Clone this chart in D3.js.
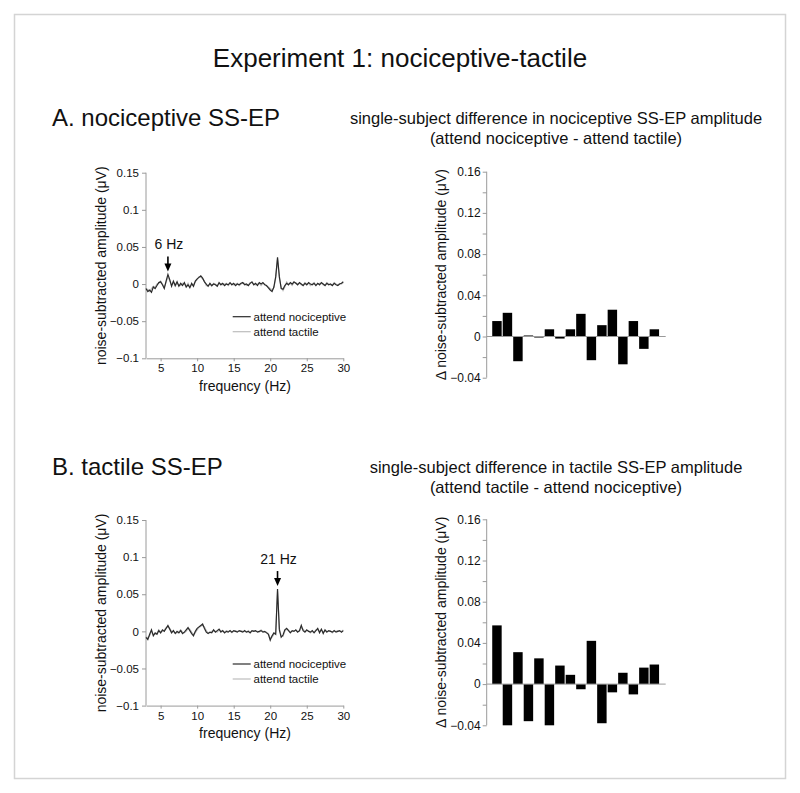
<!DOCTYPE html>
<html>
<head>
<meta charset="utf-8">
<script src="https://cdn.jsdelivr.net/npm/d3@7"></script>
<style>
body { margin: 0; background: #fff; }
text { font-family: "Liberation Sans", Arial, sans-serif; fill: #111; }
</style>
</head>
<body>
<svg id="fig" width="800" height="793"></svg>
<script>
// frequency grid of the spectra (Hz), 0.25 Hz resolution
var freqs = d3.range(3, 30.001, 0.25);

// A. nociceptive SS-EP spectra (uV)
var specA_noc = [-0.006,-0.010,-0.008,-0.011,-0.004,-0.006,-0.002,0.002,0.003,-0.001,-0.006,0.004,0.013,0.006,-0.003,0.004,-0.002,0.003,-0.003,0.001,-0.002,0.002,-0.004,-0.001,-0.005,0.001,-0.003,0.004,0.007,0.009,0.011,0.008,0.003,0.000,-0.003,0.001,-0.002,0.000,-0.001,-0.003,0.002,-0.001,0.001,-0.002,0.000,-0.001,0.002,-0.001,0.001,-0.002,0.000,-0.001,0.001,0.002,-0.001,0.000,-0.002,0.001,0.003,-0.001,0.001,-0.002,0.002,0.000,0.002,-0.001,-0.002,-0.005,-0.008,-0.010,-0.004,0.010,0.036,0.010,-0.006,-0.007,-0.002,0.001,-0.001,0.002,0.000,0.003,0.001,-0.001,0.002,0.000,-0.002,0.001,-0.001,0.002,0.000,-0.001,0.001,-0.002,0.001,-0.001,0.002,0.000,-0.002,0.001,-0.001,0.000,-0.002,0.001,-0.001,-0.002,0.000,0.001,0.003];
var specA_tac = [-0.008,-0.007,-0.010,-0.006,-0.003,-0.004,0.000,0.001,0.004,0.000,-0.004,0.002,0.010,0.004,-0.001,0.002,-0.003,0.001,-0.001,-0.002,0.001,0.000,-0.003,0.001,-0.004,-0.001,-0.001,0.003,0.006,0.010,0.009,0.007,0.004,-0.002,-0.002,0.000,-0.003,0.001,0.000,-0.002,0.000,0.001,-0.001,0.000,0.001,-0.002,0.001,0.000,-0.001,0.000,0.001,-0.002,0.000,0.001,0.001,-0.002,-0.001,0.002,0.002,0.000,-0.001,0.000,0.001,-0.002,0.001,0.000,-0.003,-0.004,-0.006,-0.008,-0.005,0.008,0.033,0.008,-0.004,-0.009,-0.004,0.003,0.000,0.001,-0.002,0.002,0.002,0.000,0.001,-0.001,-0.001,0.002,0.000,0.001,-0.002,0.000,0.002,-0.001,0.000,0.001,0.001,-0.001,-0.001,0.002,0.000,-0.001,-0.001,0.002,0.000,-0.001,0.001,0.000,0.002];

// B. tactile SS-EP spectra (uV)
var specB_noc = [-0.008,-0.011,-0.004,0.002,-0.006,-0.002,-0.004,0.001,-0.002,0.002,0.000,0.004,0.008,0.003,-0.002,0.001,-0.003,0.000,-0.002,0.001,-0.003,-0.001,0.002,0.005,0.001,-0.003,-0.006,0.000,0.004,0.006,0.008,0.010,0.004,-0.001,-0.003,-0.001,-0.002,0.002,-0.001,0.001,0.003,-0.001,0.001,-0.002,0.000,-0.001,0.001,-0.001,0.001,0.000,-0.001,0.001,0.000,-0.001,0.001,-0.001,0.000,-0.002,0.001,0.000,0.001,-0.001,0.000,0.001,-0.001,0.000,-0.002,-0.004,-0.012,-0.006,-0.002,-0.004,0.057,0.002,-0.008,-0.005,0.002,0.004,0.001,-0.002,0.001,0.000,0.002,-0.001,0.001,0.008,0.001,-0.001,0.002,0.000,-0.001,0.001,-0.002,0.001,0.004,-0.002,0.003,-0.003,0.002,-0.001,0.001,0.000,-0.001,0.001,-0.001,0.000,0.001,-0.001,0.001];
var specB_tac = [-0.006,-0.009,-0.006,0.000,-0.004,-0.004,-0.002,0.002,-0.001,0.000,0.002,0.005,0.006,0.004,0.000,0.000,-0.002,-0.002,0.000,0.002,-0.001,-0.002,0.000,0.004,0.003,-0.001,-0.004,-0.002,0.002,0.005,0.007,0.008,0.006,0.001,-0.002,-0.002,0.000,0.001,0.000,-0.001,0.002,0.001,0.000,-0.001,0.001,0.000,0.000,-0.002,0.000,0.001,0.000,0.000,0.001,0.000,0.000,-0.001,0.001,-0.001,0.000,0.001,0.000,0.000,-0.001,0.002,0.000,-0.001,-0.001,-0.003,-0.009,-0.008,-0.004,-0.002,0.054,0.004,-0.006,-0.007,0.000,0.003,0.002,-0.001,0.000,0.001,0.001,0.000,0.000,0.005,0.003,0.000,0.001,0.001,-0.002,0.000,-0.001,0.002,0.002,0.000,0.002,-0.001,0.001,0.000,0.000,0.001,-0.002,0.000,0.000,0.001,0.000,0.000,0.002];

// single-subject differences (uV), 16 subjects
var diffA = [0.015,0.023,-0.024,0.001,-0.001,0.007,-0.002,0.007,0.022,-0.023,0.011,0.026,-0.027,0.015,-0.012,0.007];
var diffB = [0.057,-0.040,0.031,-0.036,0.025,-0.040,0.018,0.009,-0.005,0.042,-0.038,-0.008,0.011,-0.010,0.016,0.019];
var subjects = d3.range(1, 17);

var specTicksY = [-0.1, -0.05, 0, 0.05, 0.1, 0.15];
var specTicksX = [5, 10, 15, 20, 25, 30];
var barTicksY = [-0.04, 0, 0.04, 0.08, 0.12, 0.16];
var barMinorY = [-0.04, -0.02, 0, 0.02, 0.04, 0.06, 0.08, 0.1, 0.12, 0.14, 0.16];

var svg = d3.select("#fig");

// frame
svg.append("rect").attr("x", 14.5).attr("y", 14.5).attr("width", 771).attr("height", 764)
  .attr("fill", "none").attr("stroke", "#d4d4d4").attr("stroke-width", 1.5);

svg.append("text").text("Experiment 1: nociceptive-tactile")
  .attr("x", 400).attr("y", 67).attr("text-anchor", "middle").style("font-size", "26px");

function drawSpectrum(top, noc, tac, peakHz, peakLabel, peakVal) {
  var x = d3.scaleLinear().domain([3, 30]).range([146, 343.3]);
  var y = d3.scaleLinear().domain([-0.1, 0.15]).range([top + 185.6, top]);

  var yAxis = d3.axisLeft(y).tickValues(specTicksY).tickSize(4).tickPadding(3)
    .tickFormat(function(d) { return d3.format("")(+d.toFixed(2)); });
  var gy = svg.append("g").attr("transform", "translate(146,0)").call(yAxis);
  var xAxis = d3.axisBottom(x).tickValues(specTicksX).tickSize(3).tickPadding(3).tickSizeOuter(0);
  var gx = svg.append("g").attr("transform", "translate(0," + (top + 185.6) + ")").call(xAxis);
  [gx, gy].forEach(function(g) {
    g.selectAll("path, line").attr("stroke", "#9a9a9a");
    g.selectAll("text").style("font-size", "11.5px").style("font-family", "Liberation Sans, Arial, sans-serif").attr("fill", "#222");
  });
  gy.select(".domain").attr("d", "M0," + y(0.15) + "V" + y(-0.1));

  svg.append("text").text("noise-subtracted amplitude (\u03bcV)")
    .attr("transform", "translate(106," + (top + 93) + ") rotate(-90)")
    .attr("text-anchor", "middle").style("font-size", "14px");
  svg.append("text").text("frequency (Hz)")
    .attr("x", 245).attr("y", top + 218).attr("text-anchor", "middle").style("font-size", "14px");

  var line = d3.line().x(function(d, i) { return x(freqs[i]); }).y(function(d) { return y(d); });
  svg.append("path").datum(tac).attr("d", line).attr("fill", "none").attr("stroke", "#bdbdbd").attr("stroke-width", 1.2);
  svg.append("path").datum(noc).attr("d", line).attr("fill", "none").attr("stroke", "#2a2a2a").attr("stroke-width", 1.2);

  // peak annotation
  var ax = x(peakHz), tipY = y(peakVal) - 3;
  svg.append("line").attr("x1", ax).attr("x2", ax).attr("y1", tipY - 15).attr("y2", tipY - 6)
    .attr("stroke", "#000").attr("stroke-width", 1.6);
  svg.append("path").attr("d", "M" + (ax - 3.5) + "," + (tipY - 8) + "L" + (ax + 3.5) + "," + (tipY - 8) + "L" + ax + "," + tipY + "Z")
    .attr("fill", "#000");
  svg.append("text").text(peakLabel).attr("x", ax + 1).attr("y", tipY - 22)
    .attr("text-anchor", "middle").style("font-size", "14px");

  // legend
  var ly = top + 144;
  [["attend nociceptive", "#2a2a2a"], ["attend tactile", "#bdbdbd"]].forEach(function(l, i) {
    svg.append("line").attr("x1", 232.7).attr("x2", 250.7).attr("y1", ly + i * 15).attr("y2", ly + i * 15)
      .attr("stroke", l[1]).attr("stroke-width", 1.2);
    svg.append("text").text(l[0]).attr("x", 253.5).attr("y", ly + i * 15 + 4).style("font-size", "11.5px");
  });
}

function drawBars(top, values) {
  var x = d3.scaleBand().domain(subjects).range([491.7, 659.6]).paddingInner(0.1).paddingOuter(0.05);
  var y = d3.scaleLinear().domain([-0.04, 0.16]).range([top + 206, top]);

  var gy = svg.append("g").attr("transform", "translate(486.7,0)")
    .call(d3.axisLeft(y).tickValues(barMinorY).tickSize(4).tickFormat(""));
  var gl = svg.append("g").attr("transform", "translate(486.7,0)")
    .call(d3.axisLeft(y).tickValues(barTicksY).tickSize(4).tickPadding(2)
      .tickFormat(function(d) { return d3.format("")(+d.toFixed(2)); }));
  gl.select(".domain").remove();
  gl.selectAll("line").remove();
  gy.selectAll("path, line").attr("stroke", "#9a9a9a");
  gy.select(".domain").attr("d", "M0," + y(0.16) + "V" + y(-0.04));
  gl.selectAll("text").style("font-size", "12px").style("font-family", "Liberation Sans, Arial, sans-serif").attr("fill", "#222");

  svg.append("text").text("\u0394 noise-subtracted amplitude (\u03bcV)")
    .attr("transform", "translate(446," + (top + 103) + ") rotate(-90)")
    .attr("text-anchor", "middle").style("font-size", "14px");

  svg.selectAll(null).data(values).enter().append("rect")
    .attr("x", function(d, i) { return x(subjects[i]); })
    .attr("width", x.bandwidth())
    .attr("y", function(d) { return y(Math.max(0, d)); })
    .attr("height", function(d) { return Math.abs(y(d) - y(0)); })
    .attr("fill", "#000");

  svg.append("line").attr("x1", 486.7).attr("x2", 665.7).attr("y1", y(0)).attr("y2", y(0))
    .attr("stroke", "#9a9a9a");
}

function drawHeadings(top, label, sub1, sub2) {
  svg.append("text").text(label).attr("x", 52).attr("y", top).style("font-size", "24px");
  svg.append("text").text(sub1).attr("x", 556).attr("y", top - 2).attr("text-anchor", "middle").style("font-size", "16.5px");
  svg.append("text").text(sub2).attr("x", 556).attr("y", top + 18).attr("text-anchor", "middle").style("font-size", "16.5px");
}

drawHeadings(126, "A. nociceptive SS-EP", "single-subject difference in nociceptive SS-EP amplitude", "(attend nociceptive - attend tactile)");
drawSpectrum(172.7, specA_noc, specA_tac, 6, "6 Hz", 0.013);
drawBars(171.7, diffA);

drawHeadings(475, "B. tactile SS-EP", "single-subject difference in tactile SS-EP amplitude", "(attend tactile - attend nociceptive)");
drawSpectrum(520, specB_noc, specB_tac, 21, "21 Hz", 0.057);
drawBars(519.3, diffB);
</script>
</body>
</html>
